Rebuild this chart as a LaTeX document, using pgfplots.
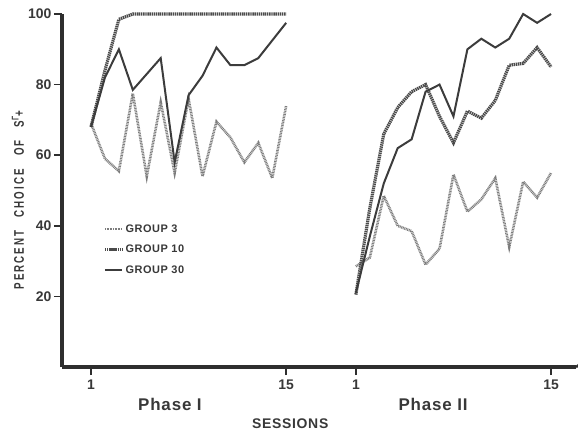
\documentclass[border=0pt]{standalone}
\usepackage{fontspec}
\setmainfont{Liberation Sans}
\newfontfamily\condfont{Liberation Sans}[FakeStretch=0.7,LetterSpace=15]
\newfontfamily\legfont{Liberation Sans}[LetterSpace=5]
\newfontfamily\phfont{Liberation Sans}[LetterSpace=5]
\newfontfamily\sesfont{Liberation Sans}[LetterSpace=5]
\usepackage{pgfplots}
\pgfplotsset{compat=1.18}
\definecolor{gA}{HTML}{7C7C7C}
\definecolor{gB}{HTML}{4A4A4A}
\definecolor{gC}{HTML}{3C3C3C}
\definecolor{axc}{HTML}{2E2E2E}
\definecolor{txt}{HTML}{383838}

\pgfplotstableread{
x y
1 69
2 59
3 55.5
4 77.5
5 54
6 75
7 55
8 76
9 54
10 69.5
11 65
12 58
13 63.5
14 53.5
15 74
}\gthreeA
\pgfplotstableread{
x y
20 28.5
21 31
22 48.5
23 40
24 38.5
25 29
26 33.5
27 54.5
28 44
29 47.5
30 53.5
31 34
32 52.5
33 48
34 55
}\gthreeB
\pgfplotstableread{
x y
1 68
2 84
3 98.5
4 100
5 100
6 100
7 100
8 100
9 100
10 100
11 100
12 100
13 100
14 100
15 100
}\gtenA
\pgfplotstableread{
x y
20 20.5
21 45
22 66
23 73.5
24 78
25 80
26 71
27 63.5
28 72.5
29 70.5
30 75.5
31 85.5
32 86
33 90.5
34 85
}\gtenB
\pgfplotstableread{
x y
1 68
2 82
3 90
4 78.5
5 83
6 87.5
7 58
8 77
9 82.5
10 90.5
11 85.5
12 85.5
13 87.5
14 92.5
15 97.5
}\gthirtyA
\pgfplotstableread{
x y
20 21
21 37
22 52
23 62
24 64.5
25 78
26 80
27 71
28 90
29 93
30 90.5
31 93
32 100
33 97.5
34 100
}\gthirtyB

\begin{document}
\begin{tikzpicture}
\begin{axis}[
  scale only axis, width=514bp, height=353bp,
  xmin=-1.08, xmax=35.79, ymin=0, ymax=100,
  clip=false,
  axis x line=bottom, axis y line=left,
  axis line style={line width=3.6bp, color=axc, -},
  xtick={1,15,20,34}, xticklabels={1,15,1,15},
  ytick={20,40,60,80,100},
  tick style={line width=1.6bp, color=axc},
  major tick length=8bp,
  tick align=outside,
  /pgf/number format/assume math mode=true,
  ticklabel style={font=\bfseries\fontsize{14}{14}\selectfont, text=txt},
  xticklabel style={yshift=-1bp},
  yticklabel style={xshift=1bp},
  legend style={at={(axis description cs:0.08,0.41)}, anchor=north west,
    draw=none, fill=none, font=\legfont\bfseries\fontsize{11}{11}\selectfont,
    text=txt, row sep=7.5bp, inner sep=0pt},
  legend cell align=left,
]
\addplot[gA, line width=2.6bp, dash pattern=on 0.9bp off 0.7bp] table {\gthreeA};
\addlegendentry{GROUP 3}
\addplot[gB, line width=3.2bp, dash pattern=on 1.4bp off 0.7bp] table {\gtenA};
\addlegendentry{GROUP 10}
\addplot[gC, line width=2bp] table {\gthirtyA};
\addlegendentry{GROUP 30}
\addplot[gA, line width=2.6bp, dash pattern=on 0.9bp off 0.7bp, forget plot] table {\gthreeB};
\addplot[gB, line width=3.2bp, dash pattern=on 1.4bp off 0.7bp, forget plot] table {\gtenB};
\addplot[gC, line width=2bp, forget plot] table {\gthirtyB};
\draw[axc, line width=2.6bp] (rel axis cs:1,0) -- ++(0,10bp);
\node[text=txt, font=\phfont\bfseries\fontsize{17}{17}\selectfont] at (axis description cs:0.21,-0.105) {Phase I};
\node[text=txt, font=\phfont\bfseries\fontsize{17}{17}\selectfont] at (axis description cs:0.722,-0.105) {Phase II};
\node[text=txt, font=\sesfont\bfseries\fontsize{14}{14}\selectfont] at (axis description cs:0.444,-0.161) {SESSIONS};
\node[text=txt, rotate=90, font=\condfont\bfseries\fontsize{14}{14}\selectfont] at (axis description cs:-0.0856,0.473) {PERCENT\hspace{13bp}CHOICE\hspace{13bp}OF\hspace{13bp}S\textsuperscript{Γ}+};
\coordinate (sw) at (rel axis cs:0,0);
\end{axis}
\pgfresetboundingbox
\path (sw) ++(-62bp,-69bp) rectangle ++(578bp,436bp);
\end{tikzpicture}
\end{document}
